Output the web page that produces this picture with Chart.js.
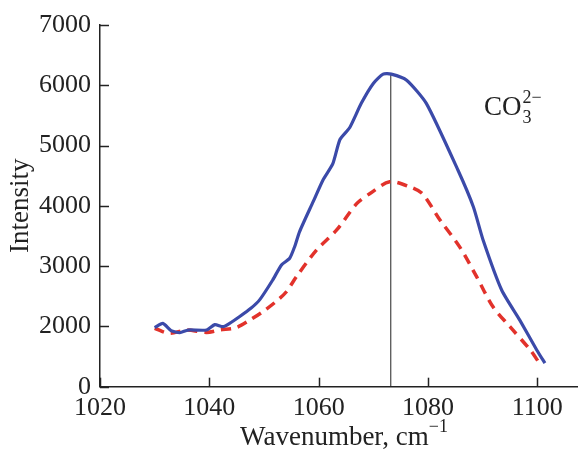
<!DOCTYPE html>
<html>
<head>
<meta charset="utf-8">
<script src="https://cdn.jsdelivr.net/npm/chart.js@4/dist/chart.umd.min.js"></script>
<style>
  html, body { margin: 0; padding: 0; background: #fff; }
  canvas { display: block; }
</style>
</head>
<body>
<canvas id="spectrum" width="578" height="450"></canvas>
<script>
// spectrum data
const blueX = [1030.0, 1031.5, 1033.0, 1034.6, 1036.1, 1039.5, 1041.0, 1042.5, 1043.7, 1045.5, 1047.6, 1049.2, 1051.6, 1053.2, 1054.7, 1055.6, 1056.5, 1059.0, 1060.8, 1062.6, 1063.9, 1065.7, 1067.8, 1070.0, 1071.8, 1073.3, 1076.1, 1079.7, 1085.5, 1088.3, 1090.1, 1093.5, 1096.8, 1099.9, 1101.4];
const blueY = [1980, 2050, 1930, 1895, 1940, 1940, 2030, 1995, 2050, 2160, 2300, 2440, 2770, 3020, 3130, 3320, 3570, 4070, 4430, 4700, 5100, 5300, 5700, 6030, 6185, 6185, 6085, 5700, 4590, 3985, 3430, 2600, 2105, 1610, 1390];

const redX = [1030.0, 1032.7, 1035.8, 1039.5, 1041.9, 1044.9, 1047.4, 1049.8, 1052.3, 1054.1, 1055.9, 1059.6, 1063.3, 1067.0, 1069.4, 1073.0, 1076.7, 1079.0, 1082.2, 1085.8, 1088.9, 1091.9, 1095.0, 1098.7, 1100.5];
const redY = [1970, 1885, 1940, 1900, 1940, 1980, 2105, 2245, 2420, 2575, 2820, 3265, 3600, 4040, 4205, 4400, 4315, 4200, 3765, 3320, 2825, 2325, 1995, 1610, 1375];

const peakX = 1073.2;
const peakLine = [1000, 6190];

const xTicks = [1020, 1040, 1060, 1080, 1100];
const yTicks = [1000, 2000, 3000, 4000, 5000, 6000, 7000];
const yTickLabels = ["0", "2000", "3000", "4000", "5000", "6000", "7000"];

const FONT = "'Liberation Serif', 'Times New Roman', serif";
const INK = "#222";

const toPoints = (xs, ys) => xs.map((x, i) => ({ x: x, y: ys[i] }));

// inward tick marks, axis title with superscript, and the ion label
const extras = {
  id: "extras",
  afterDraw(chart) {
    const { ctx, scales } = chart;
    const xs = scales.x;
    const ys = scales.y;
    ctx.save();
    ctx.strokeStyle = INK;
    ctx.lineWidth = 1.5;
    xTicks.forEach((v) => {
      const px = Math.round(xs.getPixelForValue(v)) + 0.5;
      ctx.beginPath();
      ctx.moveTo(px, ys.bottom);
      ctx.lineTo(px, ys.bottom - 9);
      ctx.stroke();
    });
    yTicks.forEach((v) => {
      const py = Math.round(ys.getPixelForValue(v)) + 0.5;
      ctx.beginPath();
      ctx.moveTo(xs.left, py);
      ctx.lineTo(xs.left + 9, py);
      ctx.stroke();
    });

    ctx.fillStyle = INK;
    ctx.textBaseline = "alphabetic";
    ctx.textAlign = "left";

    // x axis title
    const main = "Wavenumber, cm";
    const sup = "\u22121";
    ctx.font = "27px " + FONT;
    const w1 = ctx.measureText(main).width;
    ctx.font = "18px " + FONT;
    const w2 = ctx.measureText(sup).width;
    const cx = (xs.left + xs.right) / 2 + 5;
    const x0 = cx - (w1 + w2) / 2;
    ctx.font = "27px " + FONT;
    ctx.fillText(main, x0, 445);
    ctx.font = "18px " + FONT;
    ctx.fillText(sup, x0 + w1, 432);

    // CO3 2- label
    ctx.font = "27px " + FONT;
    ctx.fillText("CO", 484, 115);
    const wc = ctx.measureText("CO").width;
    ctx.font = "18px " + FONT;
    ctx.fillText("3", 484 + wc + 1, 123);
    ctx.fillText("2\u2212", 484 + wc + 1, 103);
    ctx.restore();
  },
};

new Chart(document.getElementById("spectrum"), {
  type: "line",
  data: {
    datasets: [
      {
        data: toPoints(blueX, blueY),
        borderColor: "#3b4aa9",
        borderWidth: 3.2,
        pointRadius: 0,
        tension: 0.2,
      },
      {
        data: toPoints(redX, redY),
        borderColor: "#e2322b",
        borderWidth: 3.5,
        borderDash: [10, 7],
        pointRadius: 0,
        tension: 0.3,
      },
      {
        data: peakLine.map((y) => ({ x: peakX, y: y })),
        borderColor: INK,
        borderWidth: 1,
        pointRadius: 0,
      },
    ],
  },
  options: {
    responsive: false,
    animation: false,
    layout: { padding: { top: 25, right: 0, left: 0, bottom: 0 } },
    plugins: {
      legend: { display: false },
      tooltip: { enabled: false },
    },
    scales: {
      x: {
        type: "linear",
        min: 1020,
        max: 1107.45,
        afterFit: (s) => { s.height = 63.3; },
        grid: { drawOnChartArea: false, drawTicks: false },
        border: { display: true, color: INK, width: 1.5 },
        ticks: {
          stepSize: 20,
          includeBounds: false,
          padding: 6,
          color: INK,
          font: { family: FONT, size: 26 },
          callback: (v) => String(v),
        },
      },
      y: {
        min: 1000,
        max: 7000,
        afterFit: (s) => { s.width = 100; },
        grid: { drawOnChartArea: false, drawTicks: false },
        border: { display: true, color: INK, width: 1.5 },
        title: {
          display: true,
          text: "Intensity",
          color: INK,
          padding: { top: 5, bottom: 0 },
          font: { family: FONT, size: 27 },
        },
        ticks: {
          stepSize: 1000,
          padding: 9,
          color: INK,
          font: { family: FONT, size: 26 },
          callback: (v) => yTickLabels[yTicks.indexOf(v)],
        },
      },
    },
  },
  plugins: [extras],
});
</script>
</body>
</html>
